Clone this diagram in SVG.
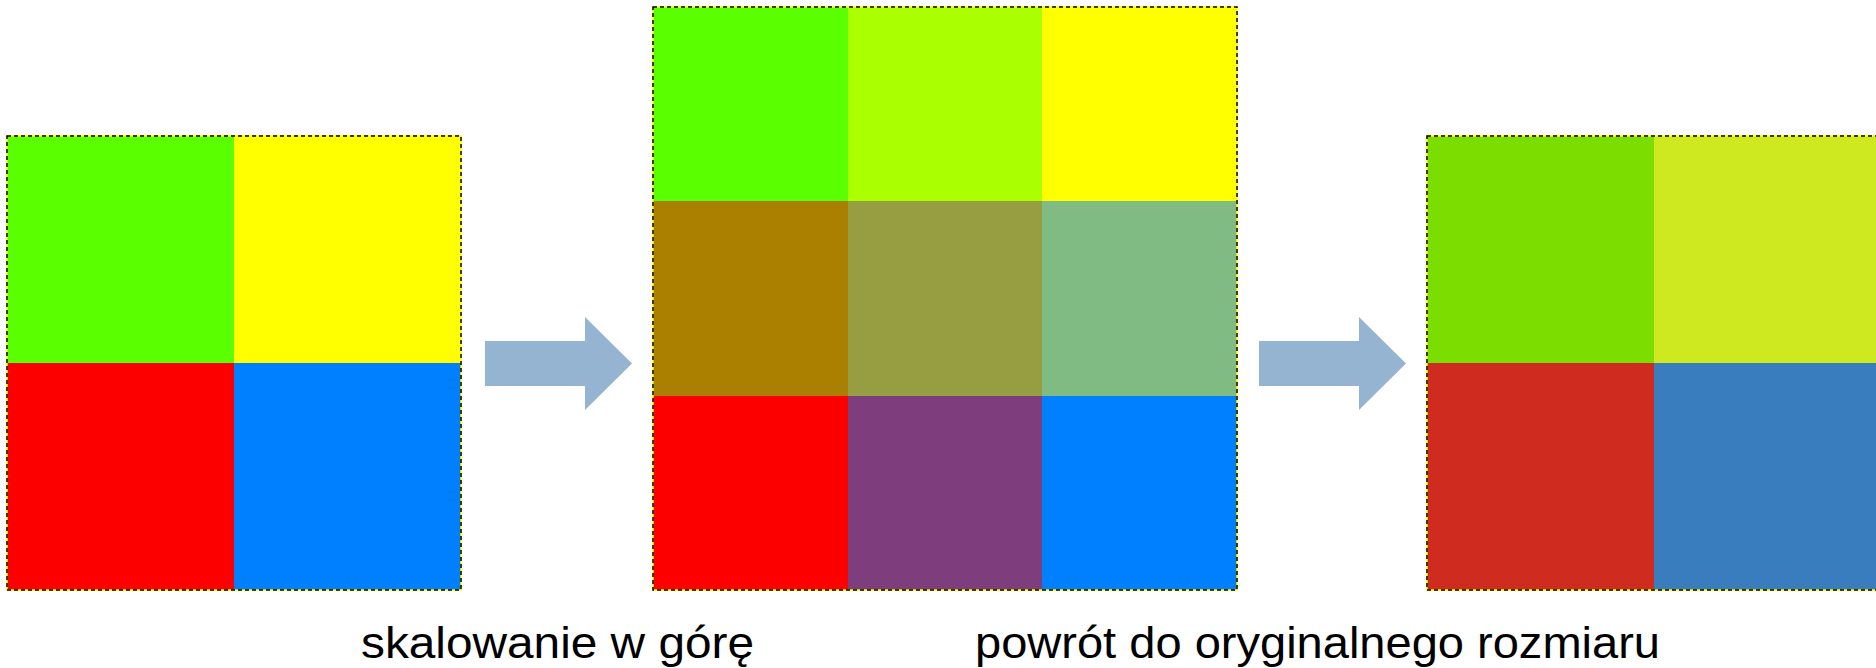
<svg xmlns="http://www.w3.org/2000/svg" width="1876" height="668" viewBox="0 0 1876 668">
<style>
.bd{fill:none;stroke:#ffff00;stroke-width:1.5}
.bk{fill:none;stroke:#000;stroke-width:1.5;stroke-dasharray:4 3}
.arrow{fill:#95b4d2}
.lbl{font-family:"Liberation Sans",Arial,sans-serif;font-size:44px;fill:#000}
</style>
<rect width="1876" height="668" fill="#fff"/>
<g id="original">
<rect x="7" y="136" width="227" height="227" fill="#5aff00"/>
<rect x="234" y="136" width="227" height="227" fill="#ffff00"/>
<rect x="7" y="363" width="227" height="227" fill="#fc0000"/>
<rect x="234" y="363" width="227" height="227" fill="#0080ff"/>
<rect class="bd" x="7" y="136" width="454" height="454"/>
<rect class="bk" x="7" y="136" width="454" height="454"/>
</g>
<g id="upscaled">
<rect x="653" y="7" width="195" height="194" fill="#5aff00"/>
<rect x="848" y="7" width="194" height="194" fill="#aaff00"/>
<rect x="1042" y="7" width="195" height="194" fill="#ffff00"/>
<rect x="653" y="201" width="195" height="195" fill="#ab7f00"/>
<rect x="848" y="201" width="194" height="195" fill="#979d41"/>
<rect x="1042" y="201" width="195" height="195" fill="#7fbb82"/>
<rect x="653" y="396" width="195" height="194" fill="#fc0000"/>
<rect x="848" y="396" width="194" height="194" fill="#7e3e7e"/>
<rect x="1042" y="396" width="195" height="194" fill="#0080ff"/>
<rect class="bd" x="653" y="7" width="584" height="583"/>
<rect class="bk" x="653" y="7" width="584" height="583"/>
</g>
<g id="restored">
<rect x="1427" y="136" width="227" height="227" fill="#7bdd00"/>
<rect x="1654" y="136" width="227" height="227" fill="#cee920"/>
<rect x="1427" y="363" width="227" height="227" fill="#cf2c1f"/>
<rect x="1654" y="363" width="227" height="227" fill="#3a7dbf"/>
<rect class="bd" x="1427" y="136" width="454" height="454"/>
<rect class="bk" x="1427" y="136" width="454" height="454"/>
</g>
<g id="connectors">
<polygon class="arrow" points="485,341 585,341 585,317 632,363.5 585,410 585,386 485,386"/>
<polygon class="arrow" points="1259,341 1359,341 1359,317 1406,363.5 1359,410 1359,386 1259,386"/>
</g>
<g id="labels">
<text class="lbl" x="361" y="658" textLength="393" lengthAdjust="spacingAndGlyphs">skalowanie w górę</text>
<text class="lbl" x="975" y="658" textLength="685" lengthAdjust="spacingAndGlyphs">powrót do oryginalnego rozmiaru</text>
</g>
</svg>
